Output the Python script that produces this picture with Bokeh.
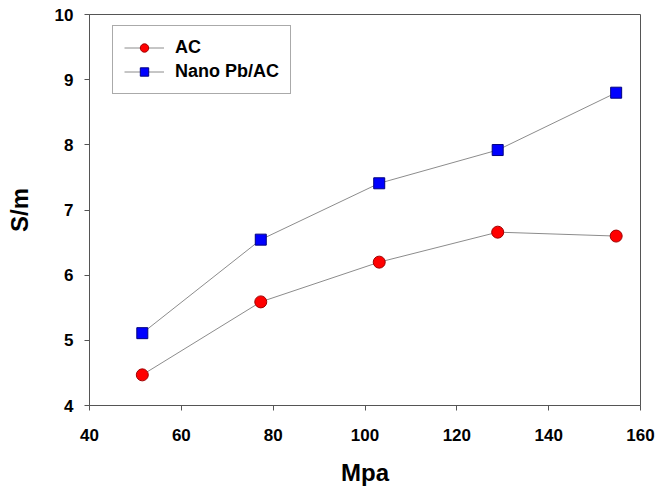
from bokeh.plotting import figure
from bokeh.models import Range1d, FixedTicker, Legend, LegendItem
from bokeh.embed import file_html
from bokeh.resources import INLINE

# Data
pressure = [51.5, 77.3, 103.1, 128.9, 154.7]
ac = [4.47, 5.59, 6.20, 6.66, 6.60]
nano = [5.11, 6.545, 7.41, 7.92, 8.80]
x_ticks = [40, 60, 80, 100, 120, 140, 160]
y_ticks = [4, 5, 6, 7, 8, 9, 10]
series_names = ["AC", "Nano Pb/AC"]

FONT = "Liberation Sans"
AX = "#555555"

p = figure(width=655, height=488, output_backend="svg", toolbar_location=None,
           x_range=Range1d(40, 160), y_range=Range1d(4, 10),
           min_border_left=89, min_border_top=14, min_border_right=15, min_border_bottom=78)

p.grid.visible = False
p.outline_line_color = AX
p.outline_line_width = 1
p.background_fill_color = "white"
p.border_fill_color = "white"

for ax in (p.xaxis[0], p.yaxis[0]):
    ax.axis_line_color = AX
    ax.major_tick_line_color = AX
    ax.major_tick_out = 5
    ax.major_tick_in = 0
    ax.minor_tick_line_color = None
    ax.major_label_text_font = FONT
    ax.major_label_text_font_style = "bold"
    ax.major_label_text_font_size = "17px"
    ax.major_label_text_color = "black"
    ax.axis_label_text_font = FONT
    ax.axis_label_text_font_style = "bold"
    ax.axis_label_text_font_size = "24px"
    ax.axis_label_text_color = "black"

p.xaxis[0].ticker = FixedTicker(ticks=x_ticks)
p.yaxis[0].ticker = FixedTicker(ticks=y_ticks)
p.xaxis.axis_label = "Mpa"
p.yaxis.axis_label = "S/m"
p.xaxis.major_label_standoff = 18
p.xaxis.axis_label_standoff = 15
p.yaxis.major_label_standoff = 11
p.yaxis.axis_label_standoff = 19

l1 = p.line(pressure, ac, line_color="#8c8c8c", line_width=1)
s1 = p.scatter(pressure, ac, marker="circle", size=12, fill_color="#ff0000", line_color="#a00000")
l2 = p.line(pressure, nano, line_color="#8c8c8c", line_width=1)
s2 = p.scatter(pressure, nano, marker="square", size=11, fill_color="#0000ff", line_color="#000080")

legend = Legend(items=[LegendItem(label=series_names[0], renderers=[l1, s1]),
                       LegendItem(label=series_names[1], renderers=[l2, s2])],
                location=(23, 311))
legend.label_text_font = FONT
legend.label_text_font_style = "bold"
legend.label_text_font_size = "18px"
legend.label_text_color = "black"
legend.glyph_width = 40
legend.glyph_height = 21
legend.label_height = 21
legend.label_standoff = 11
legend.padding = 11
legend.spacing = 3
legend.margin = 0
legend.border_line_color = AX
legend.border_line_width = 1
legend.background_fill_alpha = 1
p.add_layout(legend, "center")

open("out.html", "w").write(file_html(p, INLINE))
